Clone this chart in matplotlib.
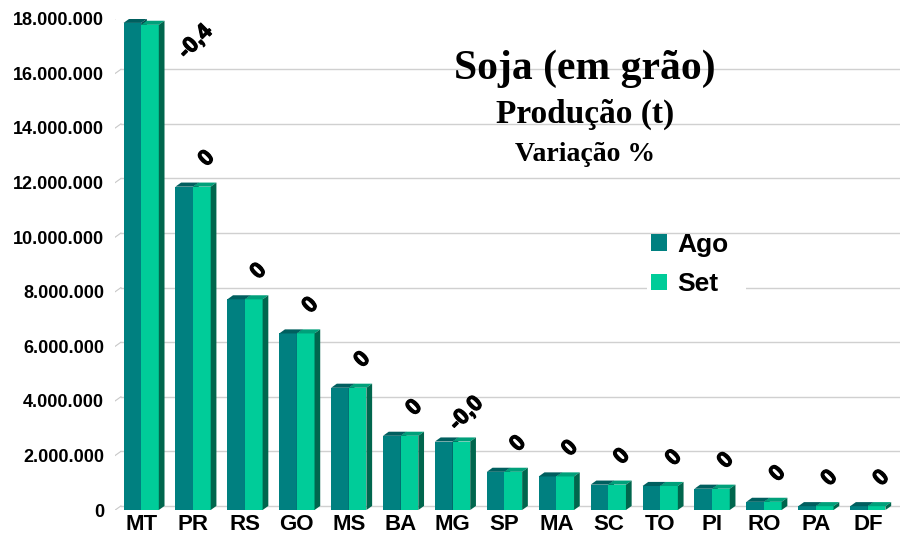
import matplotlib.pyplot as plt
import matplotlib.patheffects as pe
from matplotlib.patches import Polygon, Rectangle
from matplotlib.ticker import FuncFormatter

# dados
estados = ['MT', 'PR', 'RS', 'GO', 'MS', 'BA', 'MG', 'SP', 'MA', 'SC', 'TO', 'PI', 'RO', 'PA', 'DF']
ago = [17850000, 11850000, 7720000, 6470000, 4480000, 2720000, 2510000, 1400000,
       1230000, 930000, 880000, 780000, 300000, 140000, 140000]
setembro = [17780000, 11850000, 7720000, 6470000, 4480000, 2720000, 2510000, 1400000,
            1230000, 930000, 880000, 780000, 300000, 140000, 140000]
variacao = ['-0,4', '0', '0', '0', '0', '0', '-0,0', '0', '0', '0', '0', '0', '0', '0', '0']
yticks = list(range(0, 18000001, 2000000))

cores = {'Ago': ('#008080', '#005f5f', '#004f4f'),
         'Set': ('#00cc99', '#00a07a', '#00664d')}

fig = plt.figure(figsize=(9, 5.38), dpi=100)
ax = fig.add_axes([0.128, 0.052, 0.872, 0.913])
ax.set_xlim(-0.5, 14.62)
ax.set_ylim(0, 18000000)

w = 0.34     # largura de cada barra
dx = 0.11    # profundidade (efeito 3D)
dy = 150000

# grade ao fundo
for v in yticks:
    ax.plot([-0.5, -0.5 + dx], [v, v + dy], color='#c8c8c8', lw=0.8, zorder=0)
    ax.plot([-0.5 + dx, 14.62], [v + dy, v + dy], color='#d0d0d0', lw=1.0, zorder=0)


def barra(x0, h, serie):
    frente, topo, lado = cores[serie]
    ax.add_patch(Rectangle((x0, 0), w, h, facecolor=frente, edgecolor='none', zorder=3))
    ax.add_patch(Polygon([(x0, h), (x0 + w, h), (x0 + w + dx, h + dy), (x0 + dx, h + dy)],
                         closed=True, facecolor=topo, edgecolor='none', zorder=3))
    ax.add_patch(Polygon([(x0 + w, 0), (x0 + w + dx, dy), (x0 + w + dx, h + dy), (x0 + w, h)],
                         closed=True, facecolor=lado, edgecolor='none', zorder=3))


grosso = [pe.withStroke(linewidth=0.9, foreground='black')]

for i in range(len(estados)):
    barra(i - w, ago[i], 'Ago')
    barra(i, setembro[i], 'Set')
    topo = max(ago[i], setembro[i])
    if i == 0:
        # rótulo do MT deslocado para a direita
        t = ax.annotate(variacao[i], xy=(i + 1.05, topo - 700000), ha='center', va='center',
                        rotation=45, fontsize=16, fontweight='bold', family='Liberation Sans',
                        zorder=5)
    else:
        t = ax.annotate(variacao[i], xy=(i, topo), xytext=(10, 20), textcoords='offset points',
                        ha='center', va='center', rotation=45, fontsize=16, fontweight='bold',
                        family='Liberation Sans', zorder=5)
    t.set_path_effects(grosso)

ax.set_xticks(range(len(estados)))
ax.set_xticklabels(estados)
ax.set_yticks(yticks)
ax.yaxis.set_major_formatter(FuncFormatter(lambda v, p: f'{int(v):,}'.replace(',', '.')))
ax.tick_params(length=0)
ax.tick_params(axis='y', pad=8, labelsize=13)
ax.tick_params(axis='x', pad=3, labelsize=16)
for lb in ax.get_xticklabels() + ax.get_yticklabels():
    lb.set_fontweight('bold')
    lb.set_family('Liberation Sans')
for s in ax.spines.values():
    s.set_visible(False)

# títulos
fig.text(0.65, 0.873, 'Soja (em grão)', ha='center', va='center', fontsize=30,
         fontweight='bold', family='Liberation Serif')
fig.text(0.65, 0.787, 'Produção (t)', ha='center', va='center', fontsize=24,
         fontweight='bold', family='Liberation Serif')
fig.text(0.65, 0.713, 'Variação %', ha='center', va='center', fontsize=20,
         fontweight='bold', family='Liberation Serif')

# legenda
ax.add_patch(Rectangle((9.75, 7300000), 1.9, 2700000, facecolor='white', edgecolor='none', zorder=2))
h1 = Rectangle((0, 0), 1, 1, facecolor=cores['Ago'][0])
h2 = Rectangle((0, 0), 1, 1, facecolor=cores['Set'][0])
leg = ax.legend([h1, h2], ['Ago', 'Set'], loc='center', bbox_to_anchor=(0.732, 0.5),
                frameon=False, prop={'family': 'Liberation Sans', 'weight': 'bold', 'size': 19},
                handlelength=0.6, handleheight=0.6, handletextpad=0.4, labelspacing=0.6)

fig.savefig('out.png', dpi=100)
